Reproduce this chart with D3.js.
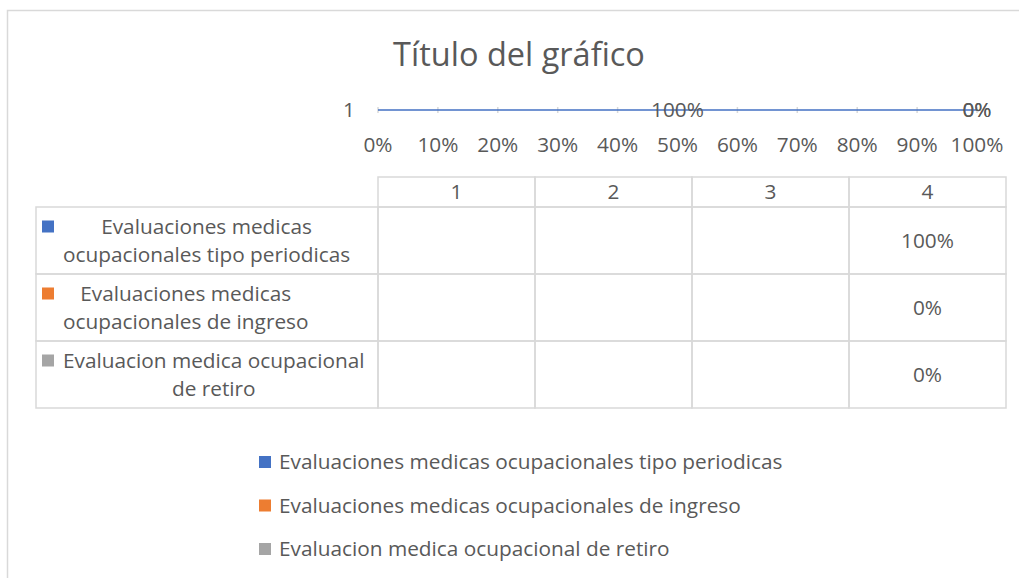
<!DOCTYPE html>
<html>
<head>
<meta charset="utf-8">
<script src="https://cdn.jsdelivr.net/npm/d3@7"></script>
<style>
  body { margin: 0; background: white; }
  svg text { font-family: "Open Sans", sans-serif; fill: #595959; }
</style>
</head>
<body>
<div id="chart"></div>
<script>
// series names, as they show in table + legend
let seriesNames = [
  "Evaluaciones medicas ocupacionales tipo periodicas",
  "Evaluaciones medicas ocupacionales de ingreso",
  "Evaluacion medica ocupacional de retiro"
];
// label lines in the data table (Excel wraps them)
let seriesLines = [
  ["Evaluaciones medicas", "ocupacionales tipo periodicas"],
  ["Evaluaciones medicas", "ocupacionales de ingreso"],
  ["Evaluacion medica ocupacional", "de retiro"]
];
let seriesColors = ["#4472C4", "#ED7D31", "#A5A5A5"];

// the one bar on the chart
let barCategories = ["1"];
let barValues = [1, 0, 0];

// data table columns and cells (only col 4 has values)
let tableColumns = ["1", "2", "3", "4"];
let tableValues = [
  [null, null, null, 1],
  [null, null, null, 0],
  [null, null, null, 0]
];

let w = 1019;
let h = 578;
let grey = "#d9d9d9";
let fs = "20.8px";

let svg = d3.select("#chart")
  .append("svg")
    .attr("width", w)
    .attr("height", h);

// chart area border (runs off the right and bottom)
svg.append("rect")
  .attr("x", 7.5)
  .attr("y", 10.5)
  .attr("width", 1040)
  .attr("height", 600)
  .attr("fill", "white")
  .attr("stroke", grey)
  .attr("stroke-width", 1.5);

svg.append("text")
  .attr("x", 519)
  .attr("y", 66)
  .attr("text-anchor", "middle")
  .attr("font-size", "32.5px")
  .text("Título del gráfico");

let pct = d3.format(".0%");

let x = d3.scaleLinear().domain([0, 1]).range([378, 977]);
let y = d3.scaleBand().domain(barCategories).range([107, 113]).padding(0.6);

// little gridline stubs
svg.append("g")
  .selectAll("line")
  .data(x.ticks(10))
  .enter().append("line")
    .attr("x1", d => x(d))
    .attr("x2", d => x(d))
    .attr("y1", 107)
    .attr("y2", 113)
    .attr("stroke", grey)
    .attr("stroke-width", 1.5);

// value axis labels
svg.append("g")
  .selectAll("text")
  .data(x.ticks(10))
  .enter().append("text")
    .attr("x", d => x(d))
    .attr("y", 152)
    .attr("text-anchor", "middle")
    .attr("font-size", fs)
    .text(d => pct(d));

// category label
svg.append("g")
  .selectAll("text")
  .data(barCategories)
  .enter().append("text")
    .attr("x", 355)
    .attr("y", d => y(d) + y.bandwidth() / 2 + 7)
    .attr("text-anchor", "end")
    .attr("font-size", fs)
    .text(d => d);

// stacked 100% bar
let row = {};
seriesNames.forEach((s, i) => row[s] = barValues[i]);
let stacked = d3.stack().keys(seriesNames).offset(d3.stackOffsetExpand)([row]);

let layers = svg.append("g")
  .selectAll("g")
  .data(stacked)
  .enter().append("g")
    .attr("fill", (d, i) => seriesColors[i]);

layers.append("rect")
  .attr("x", d => x(d[0][0]))
  .attr("width", d => x(d[0][1]) - x(d[0][0]))
  .attr("y", y(barCategories[0]))
  .attr("height", y.bandwidth());

layers.append("text")
  .attr("x", d => (x(d[0][0]) + x(d[0][1])) / 2)
  .attr("y", y(barCategories[0]) + y.bandwidth() / 2 + 7)
  .attr("text-anchor", "middle")
  .attr("font-size", fs)
  .text(d => pct(d[0][1] - d[0][0]));

// ---- data table ----
let tLeft = 36;
let col = d3.scaleBand().domain(tableColumns).range([378, 1006]);
let rowS = d3.scaleBand().domain(seriesNames).range([207, 408]);
let headTop = 177;
let lineStyle = sel => sel.attr("stroke", grey).attr("stroke-width", 1.5).attr("fill", "none");

let table = svg.append("g");

// header row cells
table.selectAll(".head")
  .data(tableColumns)
  .enter().append("rect")
    .attr("class", "head")
    .attr("x", d => col(d))
    .attr("y", headTop)
    .attr("width", col.bandwidth())
    .attr("height", rowS.range()[0] - headTop)
    .call(lineStyle);

table.selectAll(".headText")
  .data(tableColumns)
  .enter().append("text")
    .attr("x", d => col(d) + col.bandwidth() / 2)
    .attr("y", 199)
    .attr("text-anchor", "middle")
    .attr("font-size", fs)
    .text(d => d);

seriesNames.forEach((s, i) => {
  let ry = rowS(s);
  let rh = rowS.bandwidth();
  let cy = ry + rh / 2;

  // label cell
  table.append("rect")
    .attr("x", tLeft)
    .attr("y", ry)
    .attr("width", 378 - tLeft)
    .attr("height", rh)
    .call(lineStyle);

  // value cells
  tableColumns.forEach((c, j) => {
    table.append("rect")
      .attr("x", col(c))
      .attr("y", ry)
      .attr("width", col.bandwidth())
      .attr("height", rh)
      .call(lineStyle);
    if (tableValues[i][j] != null) {
      table.append("text")
        .attr("x", col(c) + col.bandwidth() / 2)
        .attr("y", cy + 7)
        .attr("text-anchor", "middle")
        .attr("font-size", fs)
        .text(pct(tableValues[i][j]));
    }
  });

  // wrapped label, lines centred in their own block
  let b1 = cy - 7;
  let lbl = table.append("g");
  let texts = lbl.selectAll("text")
    .data(seriesLines[i])
    .enter().append("text")
      .attr("y", (d, k) => b1 + k * 28)
      .attr("text-anchor", "middle")
      .attr("font-size", fs)
      .text(d => d);
  let maxW = d3.max(texts.nodes(), n => n.getComputedTextLength());
  texts.attr("x", 63 + maxW / 2);

  table.append("rect")
    .attr("x", 42)
    .attr("y", b1 - 13)
    .attr("width", 12)
    .attr("height", 12)
    .attr("fill", seriesColors[i]);
});

// ---- legend ----
let legY = d3.scalePoint().domain(seriesNames).range([462, 549]);
let leg = svg.append("g")
  .selectAll("g")
  .data(seriesNames)
  .enter().append("g")
    .attr("transform", d => `translate(259,${legY(d)})`);

leg.append("rect")
  .attr("x", 0)
  .attr("y", -6)
  .attr("width", 12)
  .attr("height", 12)
  .attr("fill", (d, i) => seriesColors[i]);

leg.append("text")
  .attr("x", 20)
  .attr("y", 7)
  .attr("font-size", fs)
  .text(d => d);
</script>
</body>
</html>
